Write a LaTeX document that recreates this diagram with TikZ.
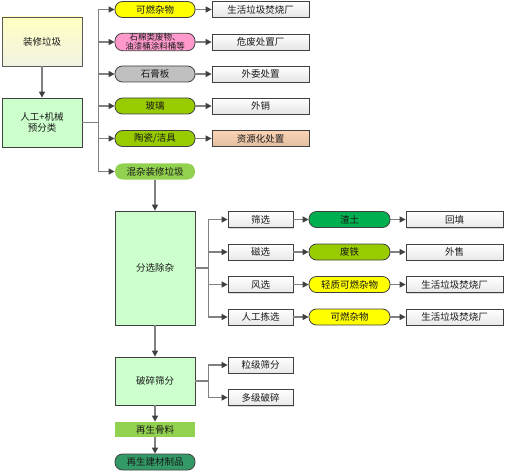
\documentclass[tikz,border=0pt]{standalone}
\usepackage{fontspec}
\setmainfont{Noto Sans CJK SC}
\usetikzlibrary{arrows.meta, positioning, shadows}
\definecolor{edgec}{HTML}{404040}
\definecolor{linec}{HTML}{808080}
\definecolor{procc}{HTML}{CCFFCC}
\definecolor{srct}{HTML}{FFFFC0}
\definecolor{srcb}{HTML}{F2F2E4}
\definecolor{yelc}{HTML}{FFFF00}
\definecolor{pinkc}{HTML}{FF99CC}
\definecolor{grayc}{HTML}{C0C0C0}
\definecolor{olivc}{HTML}{99CC00}
\definecolor{limec}{HTML}{92D050}
\definecolor{soilc}{HTML}{00B050}
\definecolor{peachc}{HTML}{FBD4B4}
\definecolor{prodc}{HTML}{339966}
\newcommand{\normtext}{\fontsize{9.5}{11}\selectfont}
\newcommand{\smalltext}{\fontsize{8.5}{9.5}\selectfont}
\tikzset{
  base/.style={draw=edgec, line width=0.8pt, inner sep=1pt, align=center,
               font=\normtext, text=black!90},
  procbox/.style={base, fill=procc, minimum width=80pt},
  outbox/.style={base, top color=white, bottom color=black!9,
                 minimum width=97pt, minimum height=16pt,
                 drop shadow={shadow xshift=1pt, shadow yshift=-1pt, fill=black!30}},
  stepbox/.style={outbox, minimum width=65pt},
  pill/.style={base, rounded corners=7.5pt, minimum width=80pt, minimum height=16pt},
  arr/.style={linec, line width=1.2pt, -{Triangle[color=edgec, length=6pt, width=6pt]}},
}

\begin{document}
\begin{tikzpicture}[x=1pt, y=-1pt]
    \useasboundingbox (0,0) rectangle (508,473);
    % pre-sorting
    \node[procbox, minimum height=49pt, draw=black!65, top color=srct, bottom color=srcb]
          (src) at (42,41.5) {装修垃圾};
    \node[procbox, minimum height=49pt] (pre) at (42,122.5) {人工+机械\\预分类};
    \draw[arr] (src) -- (pre);
    \foreach \i/\y/\col/\fnt/\txt/\out/\ocol in {
        1/9.5/yelc/\normtext/{可燃杂物}/{生活垃圾焚烧厂}/white,
        2/42/pinkc/\smalltext/{石棉类废物、\\油漆桶涂料桶等}/{危废处置厂}/white,
        3/74/grayc/\normtext/{石膏板}/{外委处置}/white,
        4/106/olivc/\normtext/{玻璃}/{外销}/white,
        5/138.5/olivc/\normtext/{陶瓷/洁具}/{资源化处置}/peachc}{
      \node[pill, fill=\col, font=\fnt, inner ysep=0pt] (p\i) at (155,\y) {\txt};
      \node[outbox, top color=\ocol, bottom color=\ocol!90!black] (o\i) at (260.5,\y) {\out};
      \draw[arr] (pre.east) -- ++(16,0) |- (p\i.west);
      \draw[arr] (p\i) -- (o\i);
    }
    \node[pill, fill=limec, draw=none] (mix) at (155,171.5) {混杂装修垃圾};
    \draw[arr] (pre.east) -- ++(16,0) |- (mix.west);
    % sorting
    \node[procbox, minimum height=114pt] (sort) at (155,268) {分选除杂};
    \draw[arr] (mix) -- (sort);
    \foreach \i/\y/\stp/\col/\txt/\out in {
        1/219.5/{筛选}/soilc/{渣土}/{回填},
        2/252/{磁选}/olivc/{废铁}/{外售},
        3/284.5/{风选}/yelc/{轻质可燃杂物}/{生活垃圾焚烧厂},
        4/317/{人工拣选}/yelc/{可燃杂物}/{生活垃圾焚烧厂}}{
      \node[stepbox] (s\i) at (260.5,\y) {\stp};
      \node[pill, fill=\col, minimum width=81pt] (q\i) at (349.5,\y) {\txt};
      \node[outbox] (r\i) at (454.5,\y) {\out};
      \draw[arr] (sort.east) -- ++(13,0) |- (s\i.west);
      \draw[arr] (s\i) -- (q\i);
      \draw[arr] (q\i) -- (r\i);
    }
    % crushing
    \node[procbox, minimum height=48pt] (crush) at (155,381) {破碎筛分};
    \draw[arr] (sort) -- (crush);
    \foreach \i/\y/\stp in {1/365/{粒级筛分}, 2/397.5/{多级破碎}}{
      \node[stepbox] (c\i) at (260.5,\y) {\stp};
      \draw[arr] (crush.east) -- ++(13,0) |- (c\i.west);
    }
    \node[procbox, fill=limec, draw=none, minimum height=15pt] (agg) at (155,429.5) {再生骨料};
    \node[pill, fill=prodc] (prod) at (155,462) {再生建材制品};
    \draw[arr] (crush) -- (agg);
    \draw[arr] (agg) -- (prod);
  \end{tikzpicture}
\end{document}
